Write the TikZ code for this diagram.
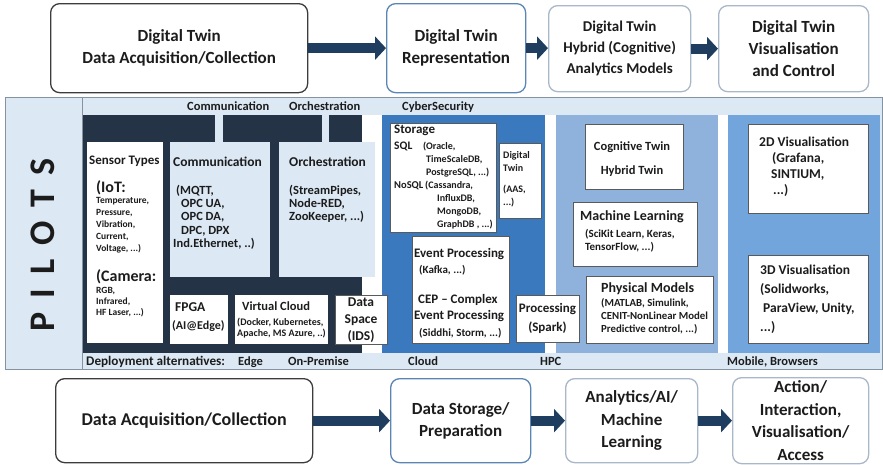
\documentclass[tikz,border=0pt]{standalone}
\usepackage{fontspec}
\setmainfont{Carlito}
\usepackage{xcolor}
\usetikzlibrary{arrows.meta,positioning}
\definecolor{ink}{HTML}{1C1C1C}
\definecolor{navy}{HTML}{243446}
\definecolor{pale}{HTML}{DCE9F5}
\definecolor{cloudblue}{HTML}{3B79BF}
\definecolor{hpcblue}{HTML}{8EB2DC}
\definecolor{mobblue}{HTML}{72A5DB}
\definecolor{arrowblue}{HTML}{1F3D5F}
\definecolor{rim}{HTML}{8593A1}
\definecolor{darkrim}{HTML}{3C3C3C}
\definecolor{bluerim}{HTML}{5B86B4}
\definecolor{greyrim}{HTML}{A9B8C8}
\definecolor{cellrim}{HTML}{5A5A5A}
\newcommand{\fsz}[2]{\fontsize{#1}{#2}\selectfont\bfseries\lineskiplimit=-30pt\relax}
\tikzset{
  stage/.style={draw=#1,rounded corners=9pt,line width=1.3pt,fill=white,align=center,
    anchor=north west,inner sep=0pt,text=ink},
  cell/.style={draw=cellrim,line width=.5pt,fill=white,anchor=north west,inner sep=0pt},
  txt/.style={anchor=north west,align=left,inner sep=0pt,text=ink},
  ctxt/.style={anchor=center,align=center,inner sep=0pt,text=ink},
  strip/.style={anchor=base west,inner sep=0pt,text=ink,font=\fsz{12.5}{14}},
  flow/.style={-{Triangle[length=11pt,width=23pt]},line width=10pt,draw=arrowblue}
}

\begin{document}
\begin{tikzpicture}[x=1pt,y=-1pt]
\useasboundingbox (0,0) rectangle (883,464);

% digital twin stages
\node[stage=darkrim,minimum width=257pt,minimum height=89pt,font=\fsz{17}{22}] (dt-acq) at (50,3)
  {Digital Twin\\Data Acquisition/Collection};
\node[stage=bluerim,minimum width=139pt,minimum height=89pt,font=\fsz{17}{22}] (dt-rep) at (386,3)
  {Digital Twin\\Representation};
\node[stage=greyrim,minimum width=142pt,minimum height=86pt,font=\fsz{15}{21}] (dt-hyb) at (548,5)
  {Digital Twin\\Hybrid (Cognitive)\\Analytics Models};
\node[stage=greyrim,minimum width=150pt,minimum height=86pt,font=\fsz{17}{22}] (dt-vis) at (718,5)
  {Digital Twin\\Visualisation\\and Control};
\draw[flow] (dt-acq.east) -- (dt-acq.east -| dt-rep.west);
\draw[flow] (dt-rep.east) -- (dt-rep.east -| dt-hyb.west);
\draw[flow] (dt-hyb.east) -- (dt-hyb.east -| dt-vis.west);

% pilots panel
\fill[pale] (5,97) rectangle (882,369);
\fill[navy] (82,115) rectangle (362,353);
\fill[white] (362,115) rectangle (382,353);
\fill[pale] (215,115) rectangle (223,143);
\fill[pale] (322,115) rectangle (329,143);
\fill[cloudblue] (382,115) rectangle (545,353);
\fill[white] (545,115) rectangle (556,353);
\fill[hpcblue] (556,115) rectangle (718,353);
\fill[white] (718,115) rectangle (728,353);
\fill[mobblue] (728,115) rectangle (880,353);
\draw[rim,line width=.8pt] (5,97) rectangle (882,369);
\draw[rim,line width=.8pt] (82,97) -- (82,369);
\node[rotate=90,inner sep=0pt,text=ink,font=\fsz{36}{40}] (pilots) at (43,245)
  {P\hspace{14pt}I\hspace{14pt}L\hspace{14pt}O\hspace{14pt}T\hspace{14pt}S};

\node[strip] (s-comm) at (187,110) {Communication};
\node[strip] (s-orch) at (289,110) {Orchestration};
\node[strip] (s-cyber) at (402,110) {CyberSecurity};
\node[strip,font=\fsz{13.2}{14}] (s-deploy) at (86,365) {Deployment alternatives:};
\node[strip] (s-edge) at (238,365) {Edge};
\node[strip] (s-prem) at (288,365) {On-Premise};
\node[strip] (s-cloud) at (408,365) {Cloud};
\node[strip] (s-hpc) at (540,365) {HPC};
\node[strip] (s-mobile) at (727,365) {Mobile, Browsers};

% edge / on-premise
\node[cell,draw=none,minimum width=76pt,minimum height=201pt] (sensor) at (87,142) {};
\node[cell,draw=none,fill=pale,minimum width=100pt,minimum height=135pt] (comm) at (170,142) {};
\node[cell,draw=none,fill=pale,minimum width=96pt,minimum height=135pt] (orch) at (279,142) {};
\node[cell,draw=none,minimum width=58pt,minimum height=49pt] (fpga) at (170,295) {};
\node[cell,draw=none,minimum width=93pt,minimum height=49pt] (vcloud) at (235,295) {};
\node[cell,minimum width=52pt,minimum height=49pt] (dspace) at (335,295) {};

\node[txt,font=\fsz{9.5}{12}] (sensor-t) at (89,156) {{\fsz{13}{14}Sensor Types}\\[16pt]
  \hspace*{7pt}{\fsz{16}{16}(IoT:}\\[-1pt]
  \hspace*{7pt}Temperature,\\ \hspace*{7pt}Pressure,\\ \hspace*{7pt}Vibration,\\
  \hspace*{7pt}Current,\\ \hspace*{7pt}Voltage, ...)\\[18pt]
  \hspace*{7pt}{\fsz{16}{16}(Camera:}\\
  \hspace*{7pt}RGB,\\[-1pt] \hspace*{7pt}Infrared,\\[-1pt] \hspace*{7pt}HF Laser, ...)};
\node[txt,font=\fsz{12.5}{13.3}] (comm-t) at (173,156.5) {{\fsz{13.5}{14}Communication}\\[14.7pt]
  \hspace*{3pt}(MQTT,\\ \hspace*{8pt}OPC UA,\\ \hspace*{8pt}OPC DA,\\ \hspace*{8pt}DPC, DPX\\ Ind.Ethernet, ..)};
\node[txt,font=\fsz{12.5}{13.3}] (orch-t) at (289,156.5) {{\fsz{13.5}{14}Orchestration}\\[14.7pt]
  (StreamPipes,\\ Node-RED,\\ ZooKeeper, ...)};
\node[txt,font=\fsz{12}{18}] (fpga-t) at (172,302) {\hspace*{3pt}{\fsz{13.5}{18}FPGA}\\(AI@Edge)};
\node[txt,font=\fsz{10}{10.5}] (vcloud-t) at (242,302) {{\fsz{12.5}{13}Virtual Cloud}\\[4.5pt]
  \hspace*{-5pt}(Docker, Kubernetes,\\ \hspace*{-5pt}Apache, MS Azure, ..)};
\node[ctxt,font=\fsz{13.5}{17}] (dspace-t) at (361,320) {Data\\Space\\(IDS)};

% cloud
\node[cell,minimum width=106pt,minimum height=109pt] (storage) at (390,123) {};
\node[cell,minimum width=42pt,minimum height=75pt] (twin) at (499,143) {};
\node[cell,minimum width=97pt,minimum height=107pt] (event) at (412,236) {};
\node[cell,minimum width=63pt,minimum height=47pt] (spark) at (516,295) {};

\node[txt,font=\fsz{10}{13}] (storage-t) at (394,124.5) {{\fsz{13}{14}Storage}\\[3pt]
  \makebox[29pt][l]{\fsz{11.5}{13}SQL}(Oracle,\\
  \hspace*{32pt}TimeScaleDB,\\ \hspace*{32pt}PostgreSQL, ...)\\
  \makebox[31pt][l]{\fsz{10.5}{13}NoSQL}(Cassandra,\\
  \hspace*{43pt}InfluxDB,\\ \hspace*{43pt}MongoDB,\\ \hspace*{43pt}GraphDB , ...)};
\node[txt,font=\fsz{10}{13}] (twin-t) at (503,151) {Digital\\Twin\\[8pt](AAS,\\...)};
\node[txt,font=\fsz{11}{16.5}] (event-t) at (414,248) {{\fsz{13}{14}Event Processing}\\
  \hspace*{5pt}(Kafka, ...)\\[13pt]
  \hspace*{4pt}{\fsz{13}{14}CEP -- Complex}\\
  {\fsz{13}{14}Event Processing}\\
  \hspace*{5pt}(Siddhi, Storm, ...)};
\node[ctxt,font=\fsz{13}{19}] (spark-t) at (547.5,318) {Processing\\(Spark)};

% hpc
\node[cell,minimum width=98pt,minimum height=65pt] (cog) at (585,124) {};
\node[cell,minimum width=124pt,minimum height=64pt] (ml) at (573,202) {};
\node[cell,minimum width=127pt,minimum height=67pt] (phys) at (586,276) {};

\node[ctxt,font=\fsz{12.5}{24}] (cog-t) at (632,159) {Cognitive Twin\\Hybrid Twin};
\node[txt,font=\fsz{11}{12.5}] (ml-t) at (580,210.5) {{\fsz{14}{14}Machine Learning}\\[4.5pt]
  \hspace*{5pt}(SciKit Learn, Keras,\\ \hspace*{5pt}TensorFlow, ...)};
\node[txt,font=\fsz{10.8}{13}] (phys-t) at (601,282) {{\fsz{14}{14}Physical Models}\\[1pt]
  (MATLAB, Simulink,\\ CENIT-NonLinear Model\\ Predictive control, ...)};

% mobile, browsers
\node[cell,minimum width=120pt,minimum height=89pt] (vis2d) at (748,124) {};
\node[cell,minimum width=120pt,minimum height=88pt] (vis3d) at (748,255) {};

\node[txt,font=\fsz{13.5}{16}] (vis2d-t) at (759,136.5) {2D Visualisation\\
  \hspace*{13pt}(Grafana,\\ \hspace*{12pt}SINTIUM,\\ \hspace*{14pt}...)};
\node[txt,font=\fsz{13.5}{19}] (vis3d-t) at (760,264.5) {3D Visualisation\\
  (Solidworks,\\ \hspace*{3pt}ParaView, Unity,\\ ...)};

% generic stages
\node[stage=darkrim,minimum width=257pt,minimum height=84pt,font=\fsz{18}{22}] (acq) at (55,378)
  {Data Acquisition/Collection};
\node[stage=bluerim,minimum width=140pt,minimum height=84pt,font=\fsz{17}{22}] (prep) at (390,378)
  {Data Storage/\\Preparation};
\node[stage=greyrim,minimum width=132pt,minimum height=84pt,font=\fsz{17}{22.5}] (ana) at (565,378)
  {Analytics/AI/\\Machine\\Learning};
\node[stage=greyrim,minimum width=136pt,minimum height=86pt,font=\fsz{17}{22.5}] (act) at (732,377)
  {Action/\\Interaction,\\Visualisation/\\Access};
\draw[flow] (acq.east) -- (acq.east -| prep.west);
\draw[flow] (prep.east) -- (prep.east -| ana.west);
\draw[flow] (ana.east) -- (ana.east -| act.west);
\end{tikzpicture}
\end{document}
